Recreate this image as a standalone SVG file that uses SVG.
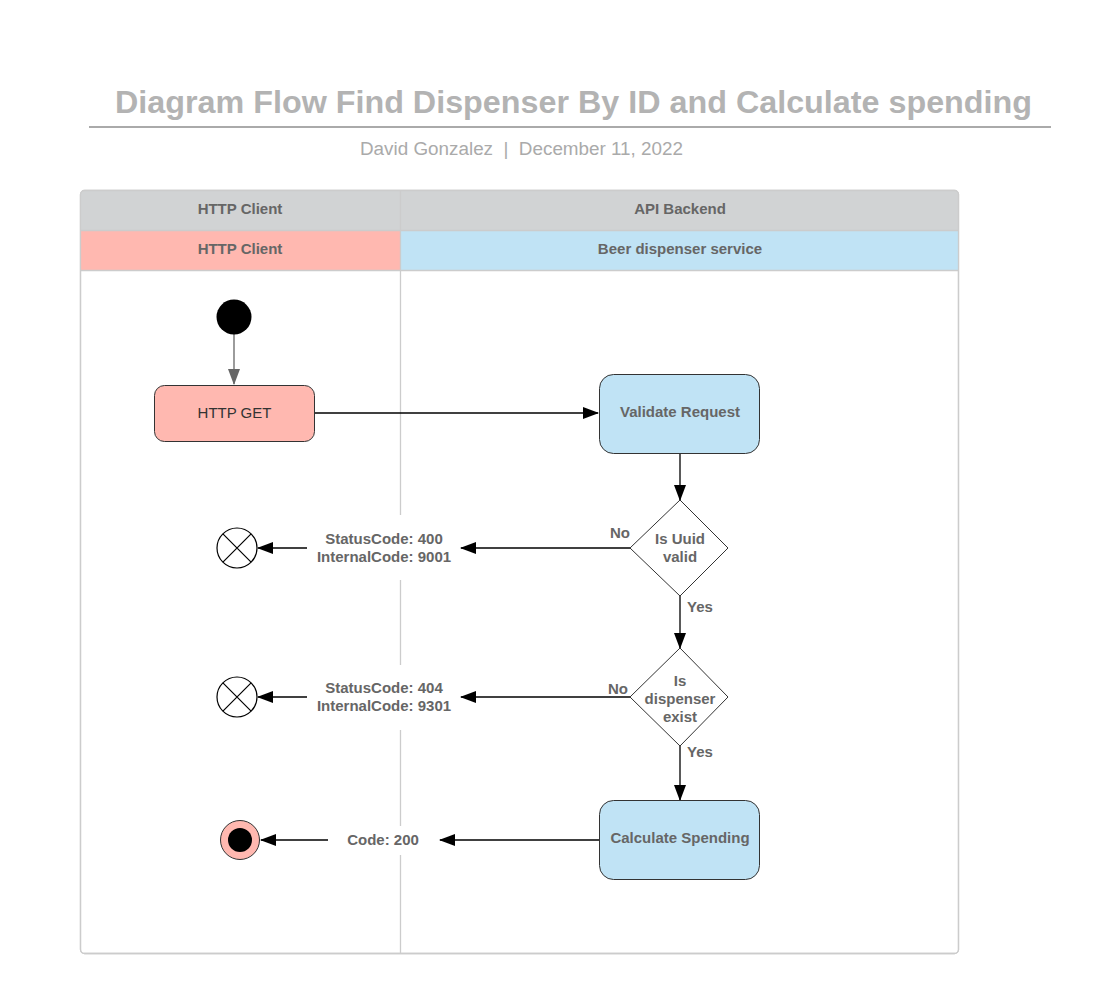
<svg xmlns="http://www.w3.org/2000/svg" width="1101" height="995" viewBox="0 0 1101 995">
<style>
text{font-family:"Liberation Sans",Arial,sans-serif}
.b{font-weight:bold;font-size:15px;fill:#666;text-anchor:middle}
.ln{stroke:#000;stroke-width:1.3;fill:none}
.pl{stroke:#ccc;stroke-width:1.3}
</style>
<defs>
<marker id="ah" markerUnits="userSpaceOnUse" markerWidth="16" markerHeight="12" viewBox="0 0 16 12" refX="15" refY="6" orient="auto"><path d="M0,0L16,6L0,12z" fill="#000"/></marker>
<marker id="ahg" markerUnits="userSpaceOnUse" markerWidth="16" markerHeight="12" viewBox="0 0 16 12" refX="15" refY="6" orient="auto"><path d="M0,0L16,6L0,12z" fill="#666"/></marker>
</defs>
<rect width="1101" height="995" fill="#fff"/>
<g id="title">
<text x="573.5" y="113" text-anchor="middle" font-size="32" font-weight="bold" fill="#b3b3b3" textLength="917" lengthAdjust="spacingAndGlyphs">Diagram Flow Find Dispenser By ID and Calculate spending</text>
<line x1="89" y1="127" x2="1051" y2="127" stroke="#aaa" stroke-width="2"/>
<text x="521.5" y="155" text-anchor="middle" font-size="18" fill="#aaa" textLength="323" lengthAdjust="spacingAndGlyphs">David Gonzalez&#160;&#160;|&#160;&#160;December 11, 2022</text>
</g>
<g id="pool">
<rect x="80.5" y="190.5" width="878" height="763" rx="4" fill="#fff" class="pl"/>
<path d="M80.5,230.5V194.5a4,4 0 0 1 4,-4H954.5a4,4 0 0 1 4,4V230.5z" fill="#d1d3d4"/>
<rect x="80.5" y="230.5" width="320" height="40" fill="#ffb8b0"/>
<rect x="400.5" y="230.5" width="558" height="40" fill="#c0e3f5"/>
<line x1="80.5" y1="230.5" x2="958.5" y2="230.5" class="pl"/>
<line x1="80.5" y1="270.5" x2="958.5" y2="270.5" class="pl"/>
<line x1="400.5" y1="190.5" x2="400.5" y2="953.5" class="pl"/>
<rect x="80.5" y="190.5" width="878" height="763" rx="4" fill="none" class="pl"/>
<text class="b" x="240" y="214">HTTP Client</text>
<text class="b" x="680" y="214">API Backend</text>
<text class="b" x="240" y="254">HTTP Client</text>
<text class="b" x="680" y="254">Beer dispenser service</text>
</g>
<g id="label-bgs">
<rect x="307" y="515" width="154" height="65" fill="#fff"/>
<rect x="307" y="665" width="154" height="65" fill="#fff"/>
<rect x="328" y="826" width="112" height="29" fill="#fff"/>
</g>
<g id="connectors">
<line x1="234" y1="334" x2="234" y2="384" stroke="#666" stroke-width="1.3" marker-end="url(#ahg)"/>
<line x1="315" y1="413" x2="598" y2="413" class="ln" marker-end="url(#ah)"/>
<line x1="680" y1="453" x2="680" y2="500" class="ln" marker-end="url(#ah)"/>
<line x1="630" y1="548" x2="461" y2="548" class="ln" marker-end="url(#ah)"/>
<line x1="307" y1="548" x2="258" y2="548" class="ln" marker-end="url(#ah)"/>
<line x1="680" y1="596" x2="680" y2="648" class="ln" marker-end="url(#ah)"/>
<line x1="630" y1="697" x2="461" y2="697" class="ln" marker-end="url(#ah)"/>
<line x1="307" y1="697" x2="258" y2="697" class="ln" marker-end="url(#ah)"/>
<line x1="680" y1="746" x2="680" y2="800" class="ln" marker-end="url(#ah)"/>
<line x1="599" y1="840" x2="440" y2="840" class="ln" marker-end="url(#ah)"/>
<line x1="328" y1="840" x2="261" y2="840" class="ln" marker-end="url(#ah)"/>
<text class="b" x="620" y="538">No</text>
<text class="b" x="700" y="612">Yes</text>
<text class="b" x="618" y="694">No</text>
<text class="b" x="700" y="757">Yes</text>
<text class="b" x="384" y="544">StatusCode: 400</text>
<text class="b" x="384" y="562">InternalCode: 9001</text>
<text class="b" x="384" y="693">StatusCode: 404</text>
<text class="b" x="384" y="711">InternalCode: 9301</text>
<text class="b" x="383" y="845">Code: 200</text>
</g>
<g id="start"><circle cx="234" cy="317" r="17.5" fill="#000"/></g>
<g id="http-get">
<rect x="154.5" y="385.5" width="160" height="56" rx="10" fill="#ffb8b0" stroke="#333" stroke-width="1"/>
<text x="234.5" y="418" text-anchor="middle" font-size="15" fill="#333">HTTP GET</text>
</g>
<g id="validate">
<rect x="599.5" y="374.5" width="160" height="79" rx="14" fill="#c0e3f5" stroke="#333" stroke-width="1"/>
<text class="b" x="680" y="417">Validate Request</text>
</g>
<g id="uuid-valid">
<polygon points="680,500 728,548 680,596 630,548" fill="#fff" stroke="#333" stroke-width="1" stroke-linejoin="round"/>
<text class="b" x="680" y="544">Is Uuid</text>
<text class="b" x="680" y="562">valid</text>
</g>
<g id="dispenser-exist">
<polygon points="680,648 728,697 680,746 630,697" fill="#fff" stroke="#333" stroke-width="1" stroke-linejoin="round"/>
<text class="b" x="680" y="686">Is</text>
<text class="b" x="680" y="704">dispenser</text>
<text class="b" x="680" y="722">exist</text>
</g>
<g id="calculate">
<rect x="599.5" y="800.5" width="160" height="79" rx="14" fill="#c0e3f5" stroke="#333" stroke-width="1"/>
<text class="b" x="680" y="843">Calculate Spending</text>
</g>
<g id="error-400">
<circle cx="237" cy="548" r="20" fill="#fff" stroke="#000" stroke-width="1.2"/>
<path d="M222.9,533.9L251.1,562.1M251.1,533.9L222.9,562.1" stroke="#000" stroke-width="1.2"/>
</g>
<g id="error-404">
<circle cx="237" cy="697" r="20" fill="#fff" stroke="#000" stroke-width="1.2"/>
<path d="M222.9,682.9L251.1,711.1M251.1,682.9L222.9,711.1" stroke="#000" stroke-width="1.2"/>
</g>
<g id="end">
<circle cx="240" cy="840" r="19.5" fill="#ffb8b0" stroke="#333" stroke-width="1"/>
<circle cx="240" cy="840" r="12" fill="#000"/>
</g>
</svg>
